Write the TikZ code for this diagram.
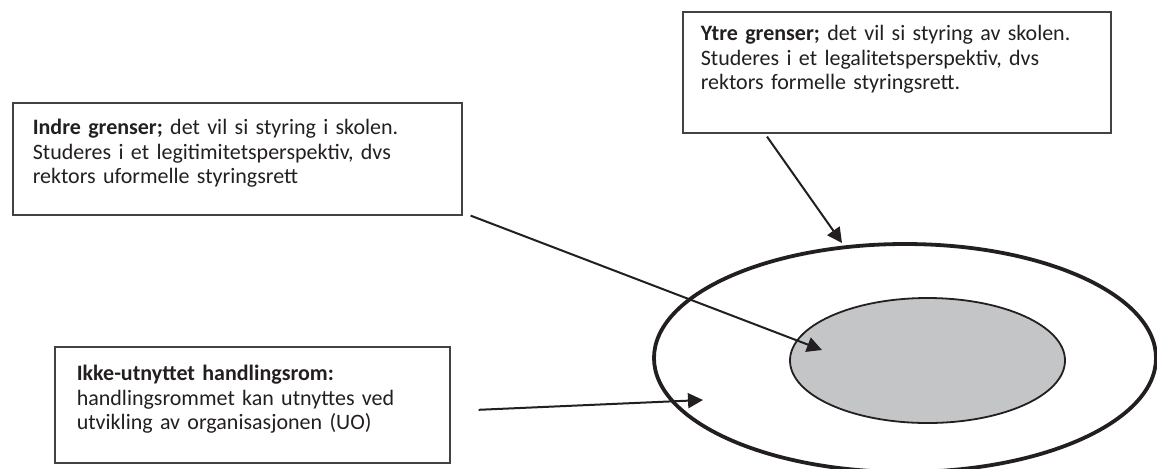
\documentclass[tikz,border=0pt]{standalone}
\usepackage{fontspec}
\setmainfont{Carlito}
\usepackage{xcolor}
\usetikzlibrary{shapes.geometric, arrows.meta, positioning}
\definecolor{ink}{HTML}{231F20}
\definecolor{corefill}{HTML}{C4C5C7}
\tikzstyle{textbox} = [rectangle, draw=ink!85, line width=0.8pt, anchor=north west, inner ysep=0pt, align=left, text=ink, font=\fontsize{11pt}{12.2pt}\selectfont]
\tikzstyle{ring} = [ellipse, draw=ink]
\tikzstyle{arrow} = [draw=ink, line width=1pt, -{Triangle[length=7.5pt, width=7.5pt]}]

\begin{document}
\begin{tikzpicture}[x=0.5pt, y=-0.5pt]
    \useasboundingbox (0,0) rectangle (1157,468);
    % Ellipses
    \node (outer) [ring, line width=1.9pt, minimum width=251pt, minimum height=114pt] at (905,358) {};
    \node (inner) [ring, line width=0.9pt, fill=corefill, minimum width=137.5pt, minimum height=62.5pt] at (927.5,360.5) {};
    
    % Text boxes
    \node (ytre) [textbox, inner xsep=9pt, text width=196pt, text height=14.5pt, text depth=46pt] at (682,11)
        {\textbf{Ytre grenser;} det vil si styring av skolen.\\ Studeres i et legalitetsperspektiv, dvs\\ rektors formelle styringsrett.};
    \node (indre) [textbox, inner xsep=10pt, text width=204.5pt, text height=16pt, text depth=40pt] at (12,102)
        {\textbf{Indre grenser;} det vil si styring i skolen.\\ Studeres i et legitimitetsperspektiv, dvs\\ rektors uformelle styringsrett};
    \node (ikke) [textbox, inner xsep=11pt, text width=175.5pt, text height=17pt, text depth=41pt] at (54,346)
        {\textbf{Ikke-utnyttet handlingsrom:}\\ handlingsrommet kan utnyttes ved\\ utvikling av organisasjonen (UO)};
    
    % Arrow tips
    \coordinate (ytretip) at (842,243);
    \coordinate (indretip) at (822,350);
    \coordinate (ikketip) at (703,400);
    
    % Arrows
    \draw [arrow] ([shift={(85,3)}]ytre.south west) -- (ytretip);
    \draw [arrow] ([shift={(8,0)}]indre.south east) -- (indretip);
    \draw [arrow] ([shift={(28,5)}]ikke.east) -- (ikketip);
\end{tikzpicture}
\end{document}
